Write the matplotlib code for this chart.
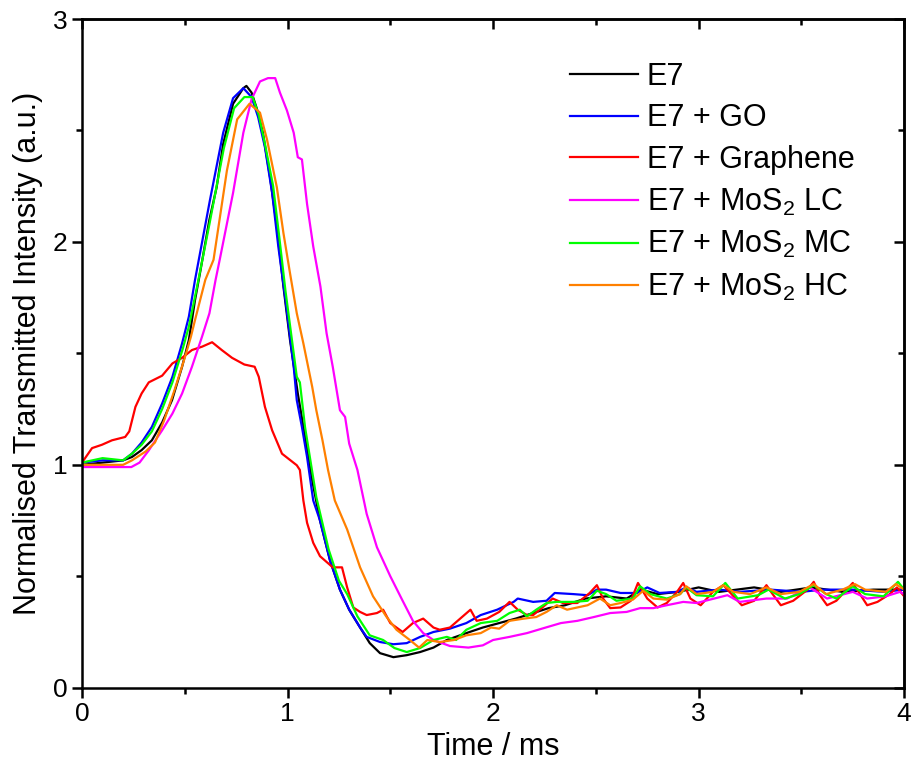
import numpy as np
import matplotlib.pyplot as plt
from matplotlib.ticker import MultipleLocator

plt.rcParams['font.family'] = ['Liberation Sans', 'DejaVu Sans']
plt.rcParams['mathtext.fontset'] = 'custom'
plt.rcParams['mathtext.rm'] = 'Liberation Sans'
plt.rcParams['mathtext.it'] = 'Liberation Sans:italic'

# E7 (neat)
t_e7 = [0.0, 0.1, 0.2, 0.243, 0.29, 0.34, 0.39, 0.438, 0.487, 0.52, 0.55, 0.574, 0.62, 0.655,
        0.687, 0.735, 0.785, 0.80, 0.825, 0.85, 0.88, 0.915, 0.948, 0.98, 1.012, 1.05, 1.09,
        1.12, 1.158, 1.207, 1.255, 1.30, 1.353, 1.40, 1.45, 1.515, 1.58, 1.645, 1.71, 1.775,
        1.87, 1.95, 2.03, 2.11, 2.195, 2.27, 2.35, 2.45, 2.55, 2.65, 2.72, 2.8, 2.9, 3.0,
        3.1, 3.27, 3.4, 3.55, 3.7, 3.85, 4.0]
i_e7 = [1.0, 1.01, 1.02, 1.035, 1.066, 1.11, 1.19, 1.29, 1.44, 1.56, 1.74, 1.86, 2.10, 2.245,
        2.44, 2.62, 2.69, 2.70, 2.67, 2.60, 2.49, 2.29, 2.07, 1.80, 1.56, 1.32, 1.10,
        0.93, 0.75, 0.57, 0.44, 0.35, 0.27, 0.20, 0.155, 0.137, 0.146, 0.16, 0.18, 0.214,
        0.245, 0.27, 0.29, 0.31, 0.335, 0.357, 0.37, 0.40, 0.41, 0.40, 0.44, 0.42, 0.43, 0.45,
        0.43, 0.45, 0.43, 0.45, 0.43, 0.44, 0.44]

# E7 + GO
t_go = [0.0, 0.1, 0.2, 0.243, 0.29, 0.34, 0.39, 0.44, 0.487, 0.52, 0.55, 0.623, 0.687, 0.735,
        0.785, 0.825, 0.857, 0.89, 0.925, 0.955, 0.99, 1.03, 1.045, 1.07, 1.095, 1.125, 1.158,
        1.207, 1.255, 1.30, 1.353, 1.385, 1.45, 1.515, 1.58, 1.645, 1.71, 1.79, 1.87, 1.94,
        2.02, 2.10, 2.12, 2.195, 2.26, 2.30, 2.39, 2.46, 2.505, 2.55, 2.62, 2.70, 2.75, 2.81,
        2.895, 2.94, 2.99, 3.1, 3.2, 3.35, 3.5, 3.6, 3.75, 3.9, 4.0]
i_go = [1.01, 1.02, 1.02, 1.05, 1.10, 1.17, 1.275, 1.395, 1.545, 1.665, 1.83, 2.19, 2.49, 2.645,
        2.69, 2.65, 2.56, 2.425, 2.22, 1.98, 1.74, 1.44, 1.29, 1.17, 1.035, 0.84, 0.75,
        0.57, 0.44, 0.35, 0.27, 0.228, 0.205, 0.195, 0.20, 0.228, 0.25, 0.265, 0.29, 0.326,
        0.35, 0.385, 0.40, 0.385, 0.39, 0.425, 0.42, 0.415, 0.44, 0.44, 0.425, 0.425, 0.45, 0.425,
        0.43, 0.45, 0.43, 0.44, 0.43, 0.44, 0.43, 0.44, 0.44, 0.43, 0.44]

# E7 + Graphene
t_gr = [0.0, 0.049, 0.097, 0.146, 0.21, 0.23, 0.26, 0.29, 0.325, 0.39, 0.44, 0.487, 0.535,
        0.584, 0.633, 0.68, 0.73, 0.79, 0.84, 0.86, 0.89, 0.925, 0.973, 1.045, 1.06, 1.077,
        1.095, 1.125, 1.158, 1.22, 1.265, 1.29, 1.32, 1.353, 1.385, 1.435, 1.465, 1.50, 1.56,
        1.61, 1.66, 1.71, 1.74, 1.79, 1.84, 1.89, 1.92, 1.97, 2.03, 2.08, 2.12, 2.165, 2.195,
        2.24, 2.29, 2.34, 2.41, 2.47, 2.505, 2.535, 2.57, 2.62, 2.67, 2.705, 2.75, 2.80, 2.845,
        2.895, 2.925, 2.96, 3.01, 3.07, 3.12, 3.17, 3.21, 3.27, 3.33, 3.36, 3.40, 3.46, 3.53,
        3.56, 3.59, 3.625, 3.67, 3.72, 3.75, 3.785, 3.82, 3.87, 3.93, 3.965, 4.0]
i_gr = [1.01, 1.075, 1.09, 1.11, 1.125, 1.15, 1.26, 1.32, 1.37, 1.40, 1.455, 1.48, 1.515,
        1.53, 1.55, 1.515, 1.48, 1.45, 1.44, 1.395, 1.26, 1.155, 1.05, 0.998, 0.977, 0.84,
        0.74, 0.65, 0.59, 0.54, 0.54, 0.45, 0.36, 0.34, 0.326, 0.335, 0.35, 0.29, 0.25,
        0.29, 0.31, 0.27, 0.26, 0.27, 0.31, 0.35, 0.30, 0.31, 0.34, 0.385, 0.35, 0.326, 0.326,
        0.36, 0.40, 0.38, 0.38, 0.425, 0.46, 0.40, 0.357, 0.36, 0.39, 0.47, 0.40, 0.36, 0.38,
        0.43, 0.47, 0.40, 0.37, 0.43, 0.46, 0.41, 0.37, 0.39, 0.46, 0.42, 0.37, 0.39, 0.44,
        0.475, 0.415, 0.37, 0.39, 0.44, 0.47, 0.42, 0.37, 0.385, 0.42, 0.45, 0.41]

# E7 + MoS2 LC
t_lc = [0.0, 0.1, 0.24, 0.28, 0.325, 0.39, 0.44, 0.487, 0.535, 0.584, 0.62, 0.65, 0.67, 0.735,
        0.785, 0.825, 0.866, 0.905, 0.94, 0.963, 0.997, 1.03, 1.05, 1.07, 1.095, 1.125, 1.16,
        1.19, 1.22, 1.255, 1.28, 1.30, 1.34, 1.385, 1.435, 1.50, 1.56, 1.61, 1.66, 1.71, 1.79,
        1.88, 1.95, 2.0, 2.08, 2.165, 2.245, 2.33, 2.41, 2.49, 2.57, 2.65, 2.715, 2.78, 2.845,
        2.925, 2.99, 3.14, 3.20, 3.33, 3.43, 3.54, 3.625, 3.75, 3.82, 3.91, 3.98, 4.0]
i_lc = [0.99, 0.99, 0.99, 1.01, 1.065, 1.155, 1.23, 1.32, 1.44, 1.575, 1.68, 1.83, 1.92, 2.22,
        2.49, 2.64, 2.72, 2.735, 2.735, 2.67, 2.59, 2.49, 2.38, 2.37, 2.17, 1.98, 1.80,
        1.59, 1.44, 1.245, 1.215, 1.095, 0.977, 0.78, 0.63, 0.50, 0.39, 0.30, 0.245, 0.214, 0.187,
        0.18, 0.19, 0.214, 0.228, 0.245, 0.267, 0.29, 0.30, 0.317, 0.335, 0.34, 0.357, 0.357, 0.37,
        0.385, 0.38, 0.415, 0.385, 0.40, 0.40, 0.45, 0.40, 0.43, 0.40, 0.41, 0.43, 0.42]

# E7 + MoS2 MC
t_mc = [0.0, 0.1, 0.2, 0.243, 0.29, 0.34, 0.39, 0.44, 0.49, 0.52, 0.56, 0.62, 0.69, 0.74, 0.79,
        0.83, 0.86, 0.89, 0.93, 0.96, 0.99, 1.02, 1.045, 1.06, 1.085, 1.14, 1.20, 1.25, 1.29,
        1.34, 1.40, 1.465, 1.52, 1.58, 1.645, 1.71, 1.775, 1.82, 1.87, 1.94, 2.02, 2.08, 2.13,
        2.165, 2.21, 2.26, 2.31, 2.39, 2.46, 2.505, 2.55, 2.60, 2.68, 2.715, 2.765, 2.845, 2.91,
        2.94, 2.99, 3.07, 3.13, 3.19, 3.29, 3.34, 3.42, 3.49, 3.56, 3.62, 3.67, 3.75, 3.81,
        3.90, 3.97, 4.0]
i_mc = [1.01, 1.03, 1.02, 1.05, 1.09, 1.15, 1.25, 1.37, 1.52, 1.62, 1.80, 2.08, 2.42, 2.60, 2.65,
        2.65, 2.57, 2.44, 2.25, 2.02, 1.78, 1.57, 1.395, 1.37, 1.17, 0.855, 0.62, 0.48, 0.42,
        0.32, 0.235, 0.214, 0.178, 0.16, 0.178, 0.214, 0.228, 0.214, 0.26, 0.29, 0.30, 0.335, 0.35,
        0.32, 0.35, 0.38, 0.385, 0.385, 0.39, 0.435, 0.42, 0.39, 0.40, 0.455, 0.42, 0.40, 0.42,
        0.45, 0.415, 0.41, 0.47, 0.40, 0.415, 0.44, 0.40, 0.42, 0.46, 0.42, 0.40, 0.455, 0.42,
        0.41, 0.475, 0.44]

# E7 + MoS2 HC
t_hc = [0.0, 0.1, 0.2, 0.243, 0.31, 0.355, 0.40, 0.45, 0.50, 0.53, 0.55, 0.60, 0.64, 0.705,
        0.755, 0.815, 0.866, 0.90, 0.948, 0.98, 1.012, 1.045, 1.077, 1.12, 1.14, 1.17, 1.197,
        1.23, 1.29, 1.353, 1.416, 1.48, 1.53, 1.595, 1.64, 1.68, 1.74, 1.81, 1.87, 1.94, 1.99,
        2.03, 2.08, 2.15, 2.21, 2.26, 2.31, 2.36, 2.41, 2.46, 2.52, 2.57, 2.62, 2.68, 2.73,
        2.78, 2.845, 2.91, 2.94, 2.99, 3.07, 3.12, 3.17, 3.25, 3.33, 3.40, 3.49, 3.56, 3.62,
        3.70, 3.76, 3.81, 3.91, 3.96, 4.0]
i_hc = [1.0, 1.0, 1.0, 1.02, 1.06, 1.10, 1.20, 1.335, 1.48, 1.575, 1.65, 1.83, 1.92, 2.32,
        2.55, 2.62, 2.58, 2.46, 2.245, 2.04, 1.86, 1.68, 1.545, 1.35, 1.245, 1.11, 0.977,
        0.84, 0.71, 0.54, 0.41, 0.32, 0.26, 0.214, 0.18, 0.214, 0.205, 0.214, 0.235, 0.245, 0.27,
        0.265, 0.30, 0.31, 0.317, 0.34, 0.37, 0.35, 0.36, 0.37, 0.40, 0.37, 0.38, 0.395, 0.435,
        0.40, 0.395, 0.42, 0.455, 0.42, 0.43, 0.46, 0.43, 0.42, 0.45, 0.42, 0.43, 0.465, 0.42,
        0.44, 0.465, 0.44, 0.43, 0.465, 0.44]

labels = ['E7', 'E7 + GO', 'E7 + Graphene', r'E7 + MoS$_2$ LC',
          r'E7 + MoS$_2$ MC', r'E7 + MoS$_2$ HC']
colours = ['#000000', '#0000ff', '#ff0000', '#ff00ff', '#00ff00', '#ff8000']
times = [t_e7, t_go, t_gr, t_lc, t_mc, t_hc]
intens = [i_e7, i_go, i_gr, i_lc, i_mc, i_hc]

fig = plt.figure(figsize=(9.11, 7.62), dpi=100)
ax = fig.add_axes([0.09, 0.0975, 0.9025, 0.8775])

for t, y, c, lab in zip(times, intens, colours, labels):
    ax.plot(t, y, color=c, lw=1.6, label=lab)

lw = 1.8
ax.set_xlim(0, 4)
ax.set_ylim(0, 3)
ax.xaxis.set_major_locator(MultipleLocator(1))
ax.xaxis.set_minor_locator(MultipleLocator(0.5))
ax.yaxis.set_major_locator(MultipleLocator(1))
ax.yaxis.set_minor_locator(MultipleLocator(0.5))
ax.tick_params(which='both', direction='out', width=lw, labelsize=19, top=False, right=False)
ax.tick_params(which='major', length=7)
ax.tick_params(which='minor', length=4)
for s in ax.spines.values():
    s.set_linewidth(lw)

# inward ticks on the top and right frame
top = ax.secondary_xaxis('top')
top.xaxis.set_major_locator(MultipleLocator(1))
top.xaxis.set_minor_locator(MultipleLocator(0.5))
top.tick_params(which='both', direction='in', width=lw, labeltop=False)
top.tick_params(which='major', length=7)
top.tick_params(which='minor', length=4)
right = ax.secondary_yaxis('right')
right.yaxis.set_major_locator(MultipleLocator(1))
right.yaxis.set_minor_locator(MultipleLocator(0.5))
right.tick_params(which='both', direction='in', width=lw, labelright=False)
right.tick_params(which='major', length=7)
right.tick_params(which='minor', length=4)
top.spines['top'].set_linewidth(lw)
right.spines['right'].set_linewidth(lw)

ax.set_xlabel('Time / ms', fontsize=22, labelpad=4)
ax.set_ylabel('Normalised Transmitted Intensity (a.u.)', fontsize=22, labelpad=7)

ax.legend(loc='upper left', bbox_to_anchor=(0.594, 0.936), frameon=False, fontsize=22,
          handlelength=2.2, handletextpad=0.3, labelspacing=0.38, borderpad=0,
          borderaxespad=0)

fig.savefig('out.png', dpi=100)
